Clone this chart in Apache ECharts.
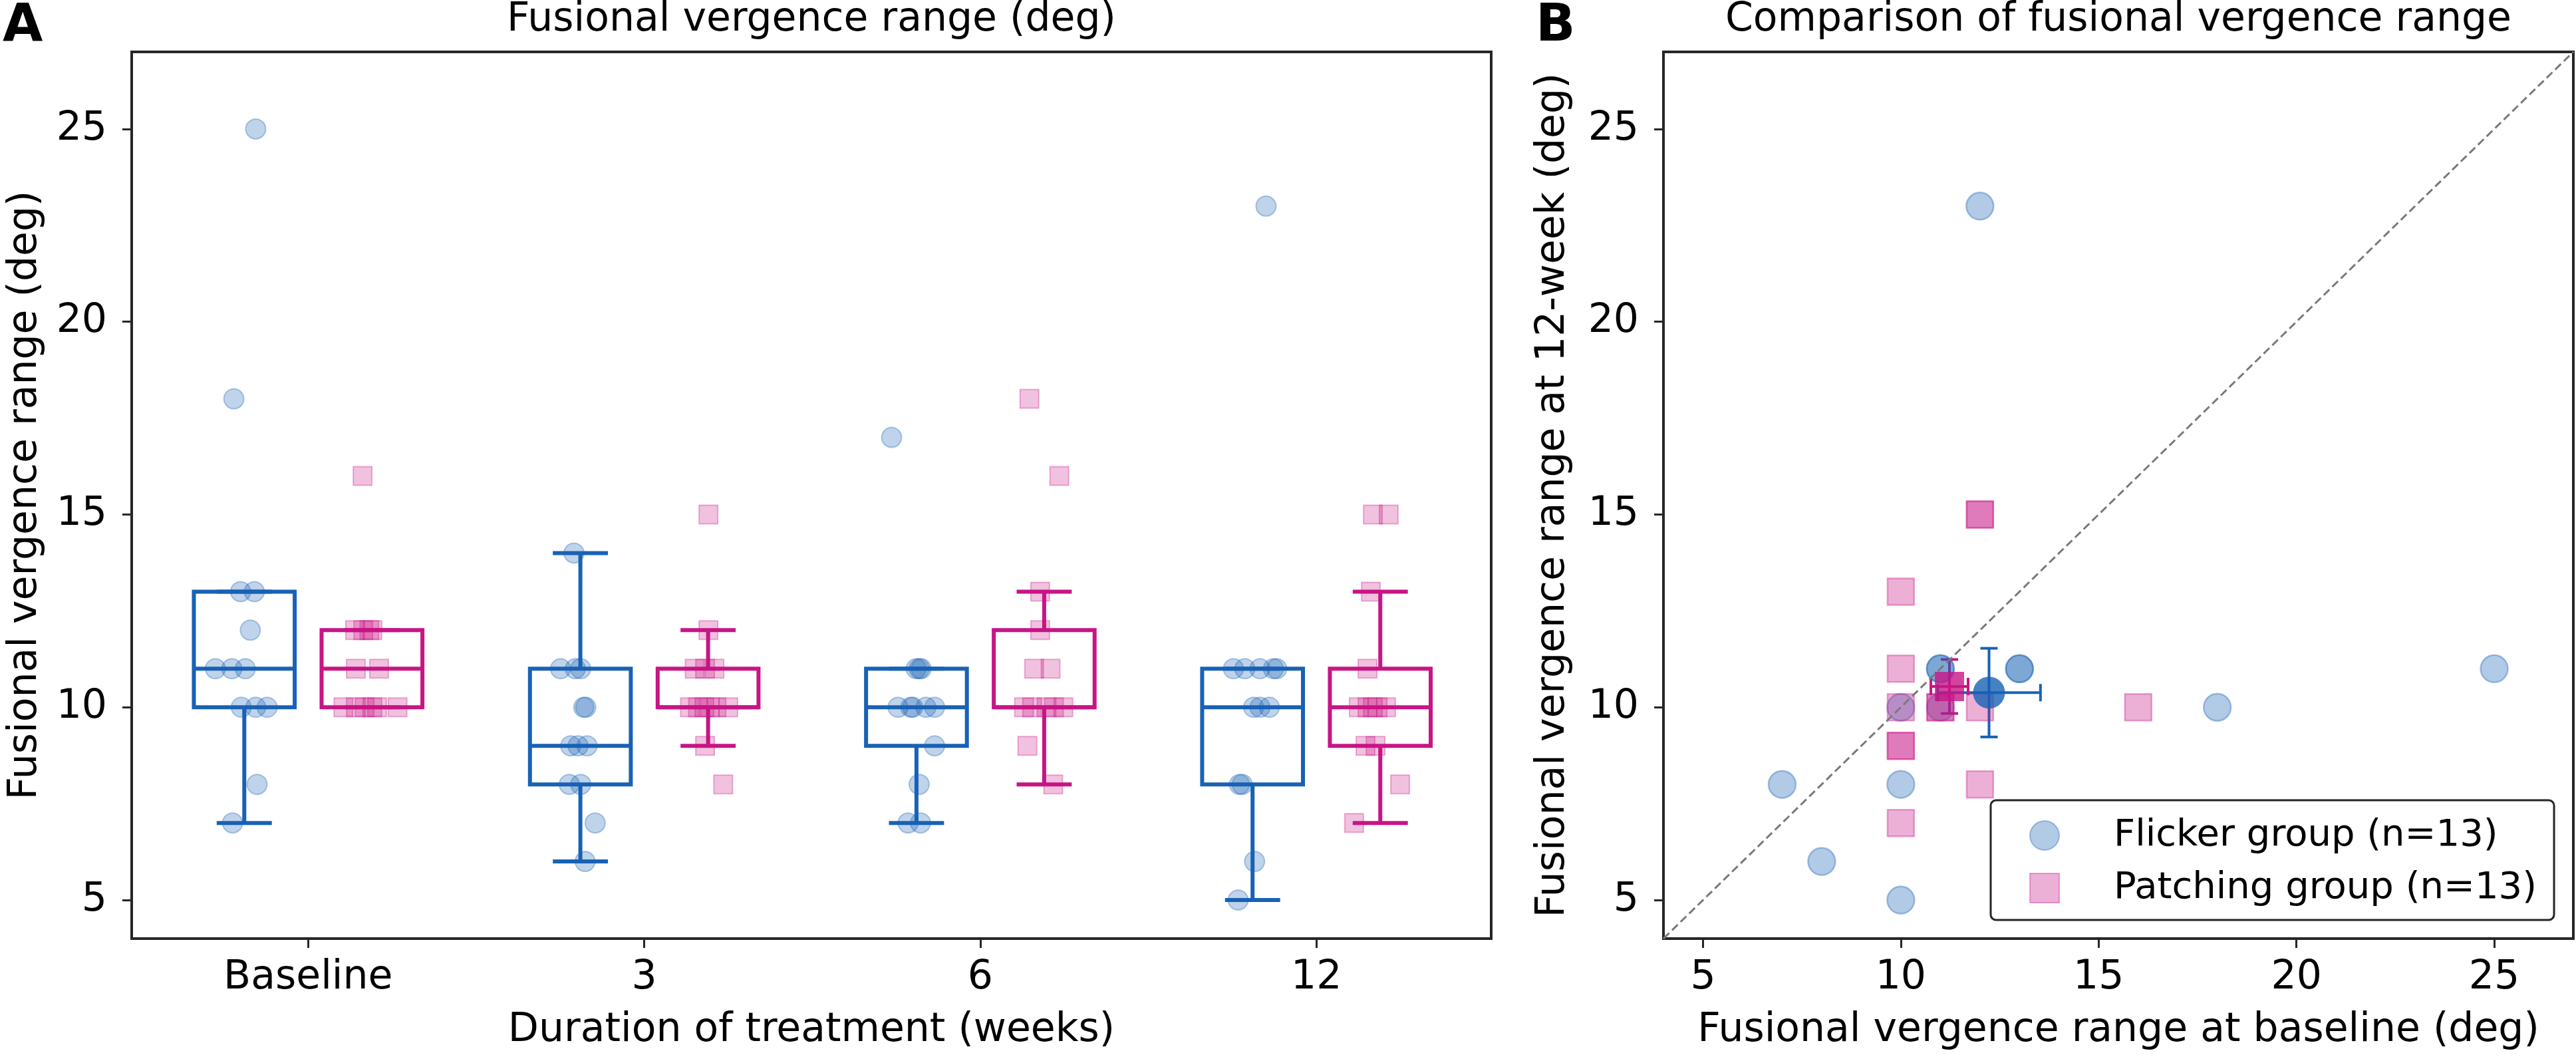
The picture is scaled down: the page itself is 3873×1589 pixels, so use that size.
<!DOCTYPE html>
<html>
<head>
<meta charset="utf-8">
<script src="https://cdn.jsdelivr.net/npm/echarts@6/dist/echarts.min.js"></script>
<style>
  html, body { margin: 0; padding: 0; background: #fff; }
  #chart { width: 3873px; height: 1589px; }
</style>
</head>
<body>
<div id="chart"></div>
<script>
// ---- panel A: categories and box statistics ----
const cats = ['Baseline', '3', '6', '12'];
// [whisker low, q1, median, q3, whisker high]
const flickerBox = [[7, 10, 11, 13, 13], [6, 8, 9, 11, 14], [7, 9, 10, 11, 11], [5, 8, 10, 11, 11]];
const patchingBox = [[10, 10, 11, 12, 12], [9, 10, 10, 11, 12], [8, 10, 10, 12, 13], [7, 9, 10, 11, 13]];

// individual values per category, and the horizontal jitter
const flickerVals = [
  [25, 18, 13, 13, 12, 11, 11, 11, 10, 10, 10, 8, 7],
  [14, 11, 11, 11, 10, 10, 9, 9, 9, 8, 8, 7, 6],
  [17, 11, 11, 11, 10, 10, 10, 10, 10, 9, 8, 7, 7],
  [23, 11, 11, 11, 11, 11, 10, 10, 10, 8, 8, 6, 5]
];
const flickerJit = [
  [-0.156, -0.221, -0.201, -0.160, -0.172, -0.276, -0.227, -0.187, -0.199, -0.156, -0.122, -0.152, -0.225],
  [-0.209, -0.249, -0.205, -0.189, -0.180, -0.174, -0.219, -0.197, -0.170, -0.223, -0.189, -0.146, -0.176],
  [-0.264, -0.191, -0.182, -0.176, -0.245, -0.207, -0.201, -0.162, -0.136, -0.136, -0.182, -0.215, -0.178],
  [-0.150, -0.247, -0.213, -0.168, -0.128, -0.118, -0.187, -0.168, -0.140, -0.229, -0.221, -0.184, -0.233]
];
const patchingVals = [
  [16, 12, 12, 12, 12, 11, 11, 10, 10, 10, 10, 10, 10],
  [15, 12, 11, 11, 11, 10, 10, 10, 10, 10, 10, 9, 8],
  [18, 16, 13, 12, 11, 11, 10, 10, 10, 10, 10, 9, 8],
  [15, 15, 13, 11, 10, 10, 10, 10, 10, 9, 9, 8, 7]
];
const patchingJit = [
  [0.162, 0.140, 0.164, 0.182, 0.191, 0.142, 0.211, 0.105, 0.142, 0.168, 0.191, 0.205, 0.266],
  [0.191, 0.191, 0.150, 0.181, 0.209, 0.136, 0.160, 0.179, 0.195, 0.215, 0.250, 0.181, 0.235],
  [0.146, 0.235, 0.178, 0.178, 0.160, 0.209, 0.130, 0.154, 0.197, 0.219, 0.247, 0.140, 0.217],
  [0.168, 0.215, 0.162, 0.152, 0.126, 0.152, 0.168, 0.182, 0.207, 0.146, 0.176, 0.249, 0.112]
];

// ---- panel B: baseline vs 12-week, per patient ----
const flickerBase = [12, 11, 11, 13, 13, 25, 11, 10, 18, 7, 10, 8, 10];
const flicker12w = [23, 11, 11, 11, 11, 11, 10, 10, 10, 8, 8, 6, 5];
const patchBase = [12, 12, 10, 10, 10, 11, 11, 12, 16, 10, 10, 12, 10];
const patch12w = [15, 15, 13, 11, 10, 10, 10, 10, 10, 9, 9, 8, 7];
// group mean [baseline, 12-week] and error [baseline, 12-week]
const flickerMean = [12.23, 10.38];
const flickerErr = [1.3, 1.15];
const patchMean = [11.23, 10.54];
const patchErr = [0.47, 0.7];
const diag = [4, 27];
const ticks = [5, 10, 15, 20, 25];

const FONT = 'DejaVu Sans';
const BLUE = '#1862b5';
const PINK = '#c71585';
const INK = '#262626';
const OFFSET = 0.19;   // hue offset from category centre
const BOX_W = 0.30;
const CAP_W = 0.164;
const LW = 6;

const chart = echarts.init(document.getElementById('chart'));

function seg(a, b, color, w) {
    return {type: 'line', shape: {x1: a[0], y1: a[1], x2: b[0], y2: b[1]}, style: {stroke: color, lineWidth: w}};
}

function boxItem(color) {
    return function (params, api) {
        const x = api.value(0), lo = api.value(1), q1 = api.value(2),
            md = api.value(3), q3 = api.value(4), hi = api.value(5);
        const tl = api.coord([x - BOX_W / 2, q3]);
        const br = api.coord([x + BOX_W / 2, q1]);
        return {
            type: 'group',
            children: [
                seg(api.coord([x, q1]), api.coord([x, lo]), color, LW),
                seg(api.coord([x, q3]), api.coord([x, hi]), color, LW),
                seg(api.coord([x - CAP_W / 2, lo]), api.coord([x + CAP_W / 2, lo]), color, LW),
                seg(api.coord([x - CAP_W / 2, hi]), api.coord([x + CAP_W / 2, hi]), color, LW),
                {type: 'rect', shape: {x: tl[0], y: tl[1], width: br[0] - tl[0], height: br[1] - tl[1]},
                    style: {fill: null, stroke: color, lineWidth: LW}},
                seg(api.coord([x - BOX_W / 2, md]), api.coord([x + BOX_W / 2, md]), color, LW)
            ]
        };
    };
}

function errItem(color) {
    return function (params, api) {
        const x = api.value(0), y = api.value(1), ex = api.value(2), ey = api.value(3);
        const l = api.coord([x - ex, y]), r = api.coord([x + ex, y]);
        const b = api.coord([x, y - ey]), t = api.coord([x, y + ey]);
        const c = 13;
        return {
            type: 'group',
            children: [
                seg(l, r, color, 4),
                seg([l[0], l[1] - c], [l[0], l[1] + c], color, 4),
                seg([r[0], r[1] - c], [r[0], r[1] + c], color, 4),
                seg(b, t, color, 4),
                seg([t[0] - c, t[1]], [t[0] + c, t[1]], color, 4),
                seg([b[0] - c, b[1]], [b[0] + c, b[1]], color, 4)
            ]
        };
    };
}

function stripData(vals, jit) {
    const out = [];
    vals.forEach(function (row, i) {
        row.forEach(function (v, k) { out.push([i + jit[i][k], v]); });
    });
    return out;
}

const tickStyle = {length: 14, lineStyle: {width: 3, color: INK}};
const labelStyle = {fontSize: 60, fontFamily: FONT, color: '#000'};
const nameStyle = {fontSize: 60, fontFamily: FONT, color: '#000'};
const noLine = {show: false, onZero: false};

const option = {
    animation: false,
    backgroundColor: '#fff',
    grid: [
        {left: 192, top: 78, width: 2050, height: 1333, show: true, borderColor: INK, borderWidth: 4},
        {left: 2501, top: 78, width: 1368, height: 1333, show: true, borderColor: INK, borderWidth: 4}
    ],
    xAxis: [
        {
            gridIndex: 0, type: 'value', min: -0.525, max: 3.52,
            axisLine: noLine, splitLine: {show: false},
            axisTick: Object.assign({customValues: [0, 1, 2, 3]}, tickStyle),
            axisLabel: Object.assign({customValues: [0, 1, 2, 3], margin: 29,
                formatter: function (v) { return cats[Math.round(v)]; }}, labelStyle),
            name: 'Duration of treatment (weeks)', nameLocation: 'middle', nameGap: 108, nameTextStyle: nameStyle
        },
        {
            gridIndex: 1, type: 'value', min: 4, max: 27,
            axisLine: noLine, splitLine: {show: false},
            axisTick: Object.assign({customValues: ticks}, tickStyle),
            axisLabel: Object.assign({customValues: ticks, margin: 29}, labelStyle),
            name: 'Fusional vergence range at baseline (deg)', nameLocation: 'middle', nameGap: 108, nameTextStyle: nameStyle
        }
    ],
    yAxis: [
        {
            gridIndex: 0, type: 'value', min: 4, max: 27,
            axisLine: noLine, splitLine: {show: false},
            axisTick: Object.assign({customValues: ticks}, tickStyle),
            axisLabel: Object.assign({customValues: ticks, margin: 37}, labelStyle),
            name: 'Fusional vergence range (deg)', nameLocation: 'middle', nameGap: 130, nameTextStyle: nameStyle
        },
        {
            gridIndex: 1, type: 'value', min: 4, max: 27,
            axisLine: noLine, splitLine: {show: false},
            axisTick: Object.assign({customValues: ticks}, tickStyle),
            axisLabel: Object.assign({customValues: ticks, margin: 37}, labelStyle),
            name: 'Fusional vergence range at 12-week (deg)', nameLocation: 'middle', nameGap: 136, nameTextStyle: nameStyle
        }
    ],
    legend: {
        data: ['Flicker group (n=13)', 'Patching group (n=13)'],
        orient: 'vertical', left: 2993, top: 1203,
        itemWidth: 44, itemHeight: 44, itemGap: 19,
        padding: [23, 26, 18, 58],
        borderColor: INK, borderWidth: 3, borderRadius: 8,
        backgroundColor: 'rgba(255,255,255,0.85)',
        selectedMode: false,
        textStyle: {fontSize: 56, fontFamily: FONT, color: '#000', lineHeight: 60, padding: [0, 0, 0, 77]}
    },
    graphic: [
        {type: 'text', x: 4, y: 2, style: {text: 'A', fontSize: 78, fontWeight: 'bold', fontFamily: FONT, fill: '#000', textAlign: 'left', textVerticalAlign: 'top'}},
        {type: 'text', x: 2309, y: 2, style: {text: 'B', fontSize: 78, fontWeight: 'bold', fontFamily: FONT, fill: '#000', textAlign: 'left', textVerticalAlign: 'top'}},
        {type: 'text', x: 1220, y: 0, style: {text: 'Fusional vergence range (deg)', fontSize: 60, fontFamily: FONT, fill: '#000', textAlign: 'center', textVerticalAlign: 'top'}},
        {type: 'text', x: 3185, y: 0, style: {text: 'Comparison of fusional vergence range', fontSize: 60, fontFamily: FONT, fill: '#000', textAlign: 'center', textVerticalAlign: 'top'}}
    ],
    series: [
        /******** panel A: boxes ********/
        {
            type: 'custom', xAxisIndex: 0, yAxisIndex: 0, silent: true,
            renderItem: boxItem(BLUE),
            data: flickerBox.map(function (r, i) { return [i - OFFSET].concat(r); })
        },
        {
            type: 'custom', xAxisIndex: 0, yAxisIndex: 0, silent: true,
            renderItem: boxItem(PINK),
            data: patchingBox.map(function (r, i) { return [i + OFFSET].concat(r); })
        },
        /******** panel A: points ********/
        {
            name: 'flicker-strip', type: 'scatter', xAxisIndex: 0, yAxisIndex: 0, silent: true,
            symbol: 'circle', symbolSize: 30,
            itemStyle: {color: 'rgba(24,98,181,0.35)', borderColor: 'rgba(24,98,181,0.4)', borderWidth: 2},
            data: stripData(flickerVals, flickerJit)
        },
        {
            name: 'patching-strip', type: 'scatter', xAxisIndex: 0, yAxisIndex: 0, silent: true,
            symbol: 'rect', symbolSize: 28,
            itemStyle: {color: 'rgba(199,21,133,0.32)', borderColor: 'rgba(199,21,133,0.4)', borderWidth: 2},
            data: stripData(patchingVals, patchingJit)
        },
        /******** panel B ********/
        {
            type: 'line', xAxisIndex: 1, yAxisIndex: 1, silent: true, symbol: 'none',
            lineStyle: {color: '#7a7a7a', width: 3, type: [12, 6]},
            data: [[diag[0], diag[0]], [diag[1], diag[1]]]
        },
        {
            name: 'Flicker group (n=13)', type: 'scatter', xAxisIndex: 1, yAxisIndex: 1, silent: true,
            symbol: 'circle', symbolSize: 41,
            itemStyle: {color: 'rgba(24,98,181,0.42)', borderColor: 'rgba(24,98,181,0.45)', borderWidth: 2.5},
            data: flickerBase.map(function (b, i) { return [b, flicker12w[i]]; })
        },
        {
            name: 'Patching group (n=13)', type: 'scatter', xAxisIndex: 1, yAxisIndex: 1, silent: true,
            symbol: 'rect', symbolSize: 40,
            itemStyle: {color: 'rgba(199,21,133,0.42)', borderColor: 'rgba(199,21,133,0.45)', borderWidth: 2.5},
            data: patchBase.map(function (b, i) { return [b, patch12w[i]]; })
        },
        {
            type: 'custom', xAxisIndex: 1, yAxisIndex: 1, silent: true,
            renderItem: errItem(BLUE),
            data: [[flickerMean[0], flickerMean[1], flickerErr[0], flickerErr[1]]]
        },
        {
            type: 'scatter', xAxisIndex: 1, yAxisIndex: 1, silent: true,
            symbol: 'circle', symbolSize: 48, itemStyle: {color: BLUE},
            data: [flickerMean]
        },
        {
            type: 'custom', xAxisIndex: 1, yAxisIndex: 1, silent: true,
            renderItem: errItem(PINK),
            data: [[patchMean[0], patchMean[1], patchErr[0], patchErr[1]]]
        },
        {
            type: 'scatter', xAxisIndex: 1, yAxisIndex: 1, silent: true,
            symbol: 'rect', symbolSize: 44, itemStyle: {color: PINK},
            data: [patchMean]
        }
    ]
};

chart.setOption(option);
</script>
</body>
</html>
